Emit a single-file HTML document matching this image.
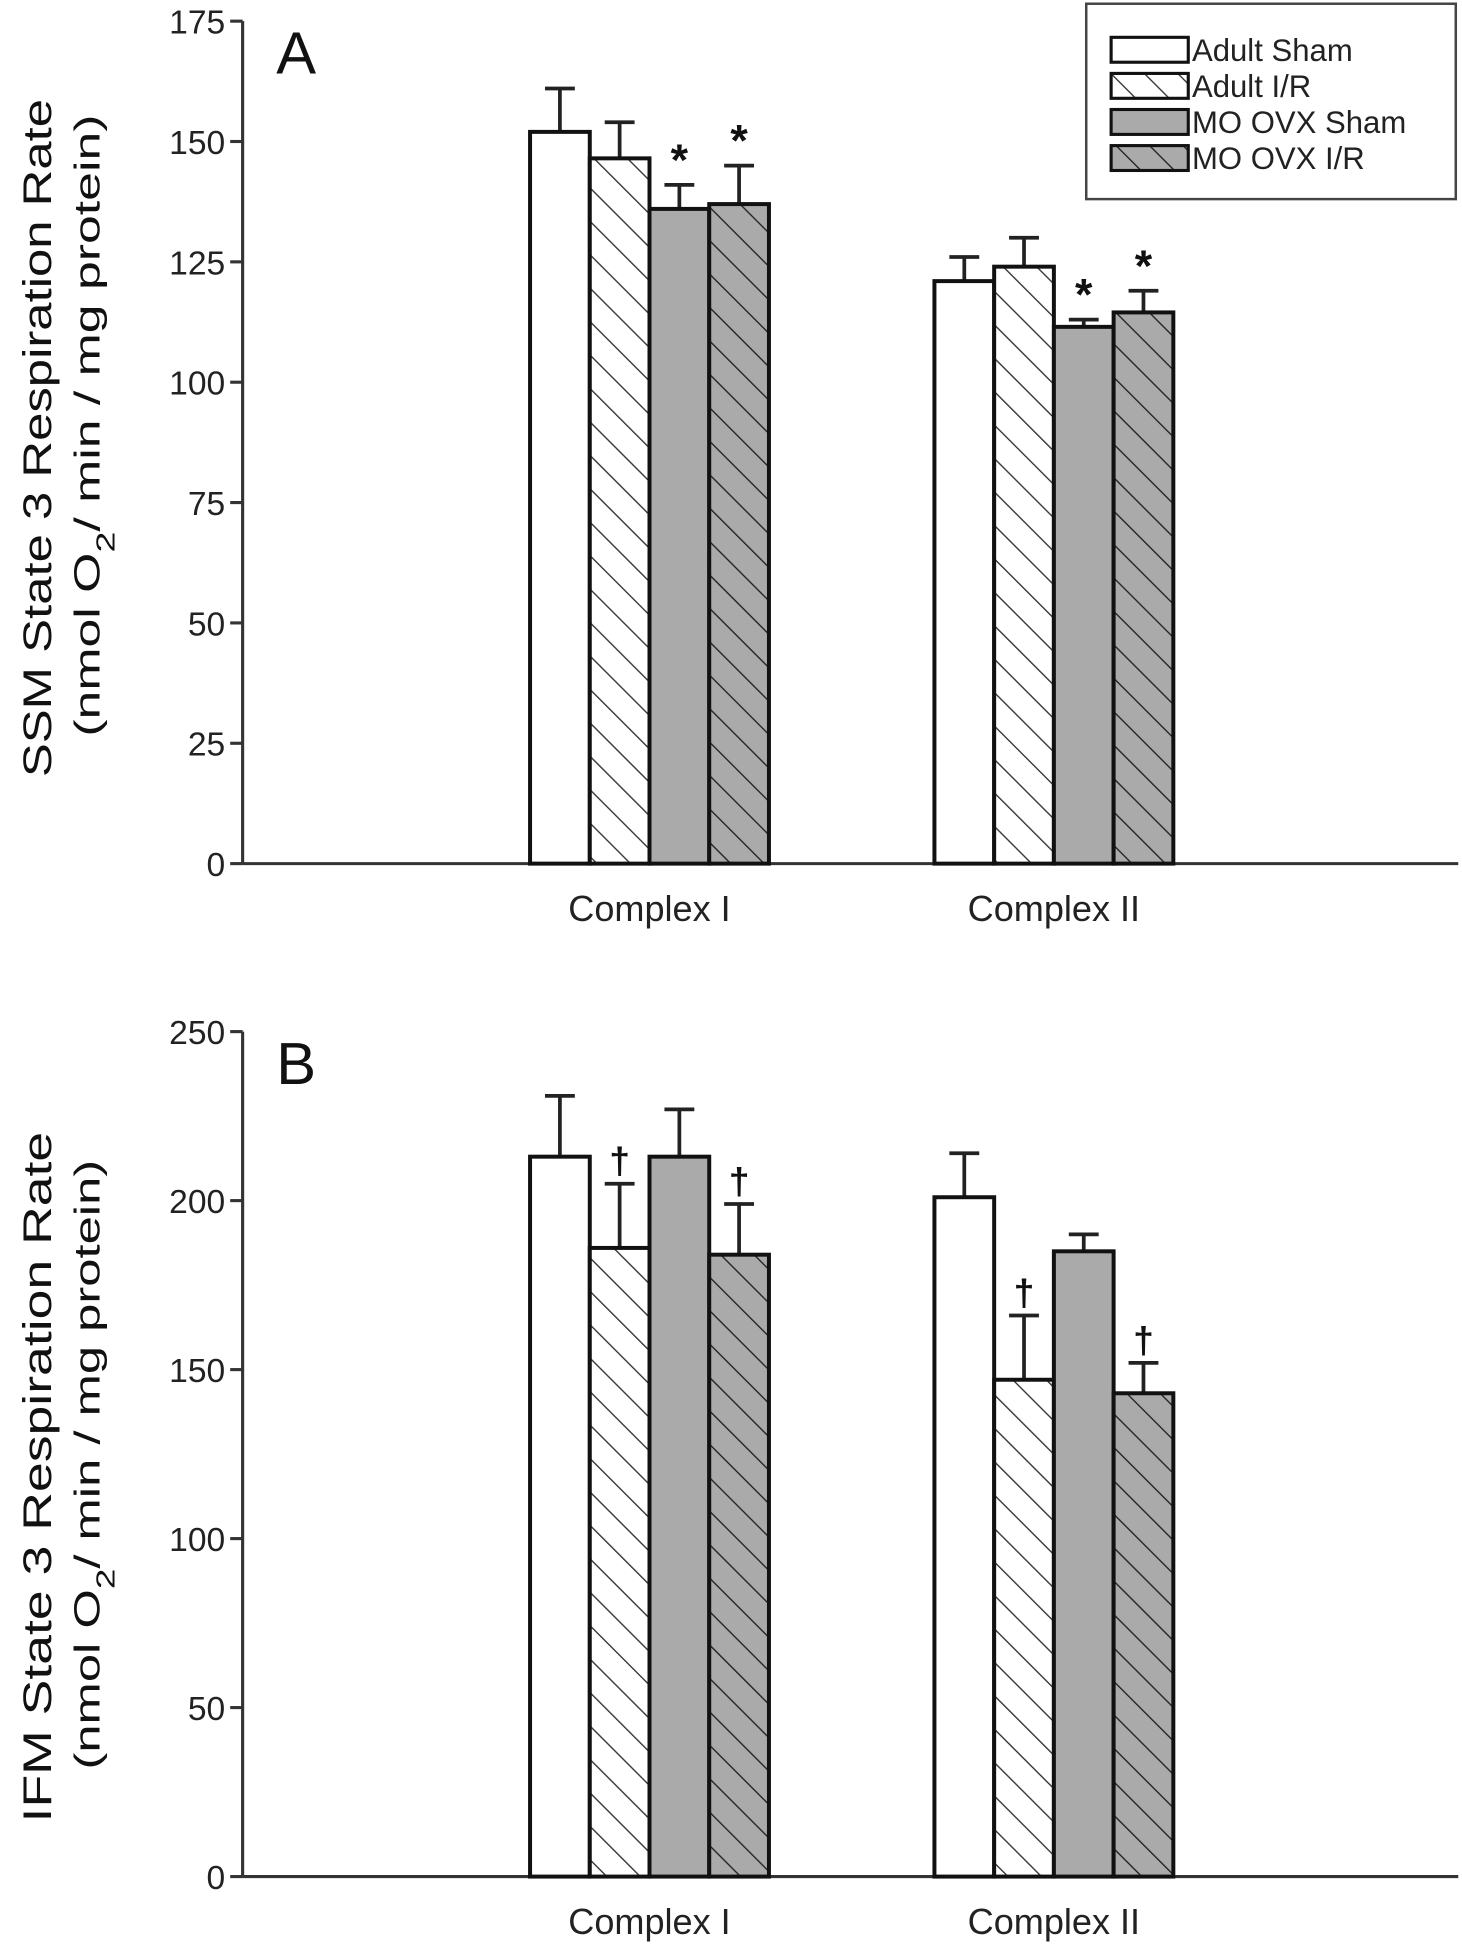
<!DOCTYPE html>
<html><head><meta charset="utf-8"><style>
html,body{margin:0;padding:0;background:#fff;}
svg{display:block;font-family:"Liberation Sans",Arial,sans-serif;}
</style></head><body>
<svg id="chart" width="1462" height="1950" viewBox="0 0 1175 1567" preserveAspectRatio="none" xmlns="http://www.w3.org/2000/svg">
<defs>
<pattern id="hatchW" patternUnits="userSpaceOnUse" width="19" height="19" patternTransform="rotate(-45)">
<rect width="19" height="19" fill="#fff"/><line x1="0" y1="0" x2="0" y2="19" stroke="#333" stroke-width="2.2"/></pattern>
<pattern id="hatchG" patternUnits="userSpaceOnUse" width="19" height="19" patternTransform="rotate(-45)">
<rect width="19" height="19" fill="#aaa"/><line x1="0" y1="0" x2="0" y2="19" stroke="#222" stroke-width="2.2"/></pattern>
</defs>
<g id="legend">
<rect x="873" y="3" width="297" height="157" fill="#fff" stroke="#444" stroke-width="2"/>
</g>
</svg>
<script>
const categories = ["Complex I", "Complex II"];
const groups = ["Adult Sham", "Adult I/R", "MO OVX Sham", "MO OVX I/R"];
const ssmValues = [[152, 146.5, 136, 137], [121, 124, 111.5, 114.5]];
const ssmErrTop = [[161, 154, 141, 145], [126, 130, 113, 119]];
const ssmMarks = [["", "", "*", "*"], ["", "", "*", "*"]];
const ssmTicks = [0, 25, 50, 75, 100, 125, 150, 175];
const ifmValues = [[213, 186, 213, 184], [201, 147, 185, 143]];
const ifmErrTop = [[231, 205, 227, 199], [214, 166, 190, 152]];
const ifmMarks = [["", "†", "", "†"], ["", "†", "", "†"]];
const ifmTicks = [0, 50, 100, 150, 200, 250];

const NS = "http://www.w3.org/2000/svg";
const svg = document.getElementById('chart');
const fills = ["#fff", "url(#hatchW)", "#aaa", "url(#hatchG)"];
function mk(tag, attrs, parent) {
  const e = document.createElementNS(NS, tag);
  for (const k in attrs) e.setAttribute(k, attrs[k]);
  (parent || svg).appendChild(e);
  return e;
}
const groupStart = [426, 751];
const barW = 48;

function panel(name, letter, top, bottom, max, ticks, values, errs, marks, title, tLen, uLen, tCy) {
  const g = mk('g', {});
  
  
  const y = v => bottom - (v / max) * (bottom - top);
  const ax = mk('line', {x1: 195, y1: top, x2: 195, y2: bottom, stroke: '#333', 'stroke-width': 2.5}, g);
  
  
  const xa = mk('line', {x1: 195, y1: bottom, x2: 1172, y2: bottom, stroke: '#333', 'stroke-width': 2.5}, g);
  
  
  ticks.forEach(t => {
    mk('line', {x1: 185, y1: y(t), x2: 195, y2: y(t), stroke: '#333', 'stroke-width': 2.5}, g);
    const tl = mk('text', {x: 181, y: y(t) + 10, 'text-anchor': 'end', 'font-size': 27, fill: '#222'}, g);
    
    
    tl.textContent = t;
  });
  categories.forEach((c, ci) => {
    const cl = mk('text', {x: groupStart[ci] + 2 * barW, y: bottom + 46, 'text-anchor': 'middle', 'font-size': 29, fill: '#222'}, g);
    
    
    cl.textContent = c;
    values[ci].forEach((v, gi) => {
      const x = groupStart[ci] + gi * barW;
      const cx = x + barW / 2;
      const el = mk('line', {x1: cx, y1: y(errs[ci][gi]), x2: cx, y2: y(v), stroke: '#222', 'stroke-width': 3}, g);
      
      
      mk('line', {x1: cx - 12, y1: y(errs[ci][gi]), x2: cx + 12, y2: y(errs[ci][gi]), stroke: '#222', 'stroke-width': 3}, g);
      const b = mk('rect', {x: x, y: y(v), width: barW, height: bottom - y(v), fill: fills[gi], stroke: '#111', 'stroke-width': 3.2}, g);
      
      
      if (marks[ci][gi]) {
        const m = mk('text', {x: cx, y: y(errs[ci][gi]) - 8, 'text-anchor': 'middle', 'font-size': marks[ci][gi] === '*' ? 36 : 30, 'font-weight': 'bold', fill: '#111'}, g);
        
        
        m.textContent = marks[ci][gi];
      }
    });
  });
  const L = mk('text', {x: 222, y: top + 42, 'font-size': 48, fill: '#111'}, g);
  
  
  L.textContent = letter;
  const t1 = mk('text', {x: 0, y: 0, transform: `translate(41,${tCy}) rotate(-90)`, 'text-anchor': 'middle', 'font-size': 32, fill: '#111', textLength: tLen, lengthAdjust: 'spacingAndGlyphs'}, g);
  
  
  t1.textContent = title;
  const t2 = mk('text', {x: 0, y: 0, transform: `translate(80,${tCy - 10}) rotate(-90)`, 'text-anchor': 'middle', 'font-size': 29, fill: '#111', textLength: uLen, lengthAdjust: 'spacingAndGlyphs'}, g);
  
  
  t2.innerHTML = '(nmol O<tspan baseline-shift="sub" font-size="21">2</tspan>/ min / mg protein)';
}
panel('panel-a', 'A', 17, 694, 175, ssmTicks, ssmValues, ssmErrTop, ssmMarks, 'SSM State 3 Respiration Rate', 545, 500, 352);
panel('panel-b', 'B', 829, 1508, 250, ifmTicks, ifmValues, ifmErrTop, ifmMarks, 'IFM State 3 Respiration Rate', 555, 490, 1187);

const lg = document.getElementById('legend');
groups.forEach((name, i) => {
  const yy = 30 + i * 29;
  const r = mk('rect', {x: 893, y: yy, width: 62, height: 20, fill: fills[i], stroke: '#111', 'stroke-width': 2.5}, lg);
  
  
  const t = mk('text', {x: 958, y: yy + 19, 'font-size': 25, fill: '#222'}, lg);
  
  
  t.textContent = name;
});
</script>
</body></html>
